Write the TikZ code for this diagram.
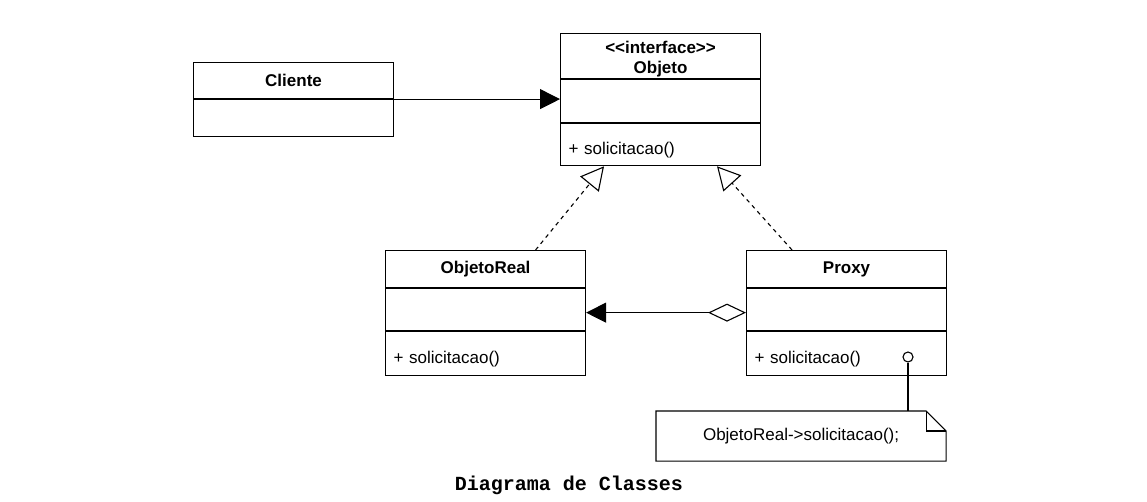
\documentclass[tikz,border=0pt]{standalone}
\usepackage{fontspec}
\setmainfont{Liberation Sans}[Ligatures=TeXOff]
\newfontfamily\capfont{Liberation Mono}
\usetikzlibrary{arrows.meta,calc}
\begin{document}
\begin{tikzpicture}[x=1pt,y=-1pt, line width=1.1pt,
  font=\fontsize{17}{20}\selectfont,
  comp/.style={draw, minimum width=200pt, text width=184pt, inner xsep=8pt, inner ysep=0pt, anchor=north west, fill=white},
  ttl/.style={comp, align=center, font=\fontsize{17}{20}\selectfont\bfseries},
  mth/.style={comp, align=left, text height=19pt, text depth=0pt},
  solidtip/.style={-{Triangle[length=20pt,width=20pt]}},
  realize/.style={dash pattern=on 4pt off 4pt, -{Triangle[open,length=23pt,width=24pt,fill=white]}},
]
\useasboundingbox (0,0) rectangle (1147,502);
% Cliente
\node[ttl, minimum height=36pt] (clit) at (193,62) {Cliente};
\node[comp, minimum height=37pt] (clia) at (clit.south west) {};
% Objeto
\node[ttl, minimum height=45pt] (objt) at (560,33) {\rule{0pt}{18pt}<<interface>>\\Objeto};
\node[comp, minimum height=43pt] (obja) at (objt.south west) {};
\node[mth, minimum height=42pt] (objm) at (obja.south west) {+ solicitacao()};
% ObjetoReal
\node[ttl, minimum height=37pt] (realt) at (385,250) {ObjetoReal};
\node[comp, minimum height=42pt] (reala) at (realt.south west) {};
\node[mth, minimum height=44pt] (realm) at (reala.south west) {+ solicitacao()};
% Proxy
\node[ttl, minimum height=37pt] (proxt) at (746,250) {Proxy};
\node[comp, minimum height=42pt] (proxa) at (proxt.south west) {};
\node[mth, minimum height=44pt] (proxm) at (proxa.south west) {+ solicitacao()};
% Note
\node[minimum width=289pt, minimum height=49pt, inner sep=0pt, anchor=north west] (note) at (656,411) {ObjetoReal->solicitacao();};
\draw (note.north west) -- ([xshift=-20pt]note.north east) -- ([yshift=-20pt]note.north east) -- (note.south east) -- (note.south west) -- cycle;
\draw ([xshift=-20pt]note.north east) -- ([xshift=-20pt,yshift=-20pt]note.north east) -- ([yshift=-20pt]note.north east);
\node[circle, draw, fill=white, minimum size=10pt, inner sep=0pt] (lol) at (908,357) {};
\draw (lol.south) -- (lol.south |- note.north);
% Connectors
\draw[solidtip] (clit.south east) -- (clit.south east -| obja.west);
\draw[realize] ([xshift=50pt]realt.north) -- ([xshift=44pt]objm.south west);
\draw[realize] ([xshift=-54.5pt]proxt.north) -- ([xshift=157pt]objm.south west);
\draw[{Diamond[open,length=38pt,width=18pt,fill=white]}-{Triangle[length=20pt,width=20pt]}] ([yshift=-3pt]proxa.west) -- ([yshift=-3pt]reala.east);
% Caption
\node[font={\capfont\bfseries\fontsize{20}{24}\selectfont}] (cap) at (569,485) {Diagrama de Classes};
\end{tikzpicture}
\end{document}
